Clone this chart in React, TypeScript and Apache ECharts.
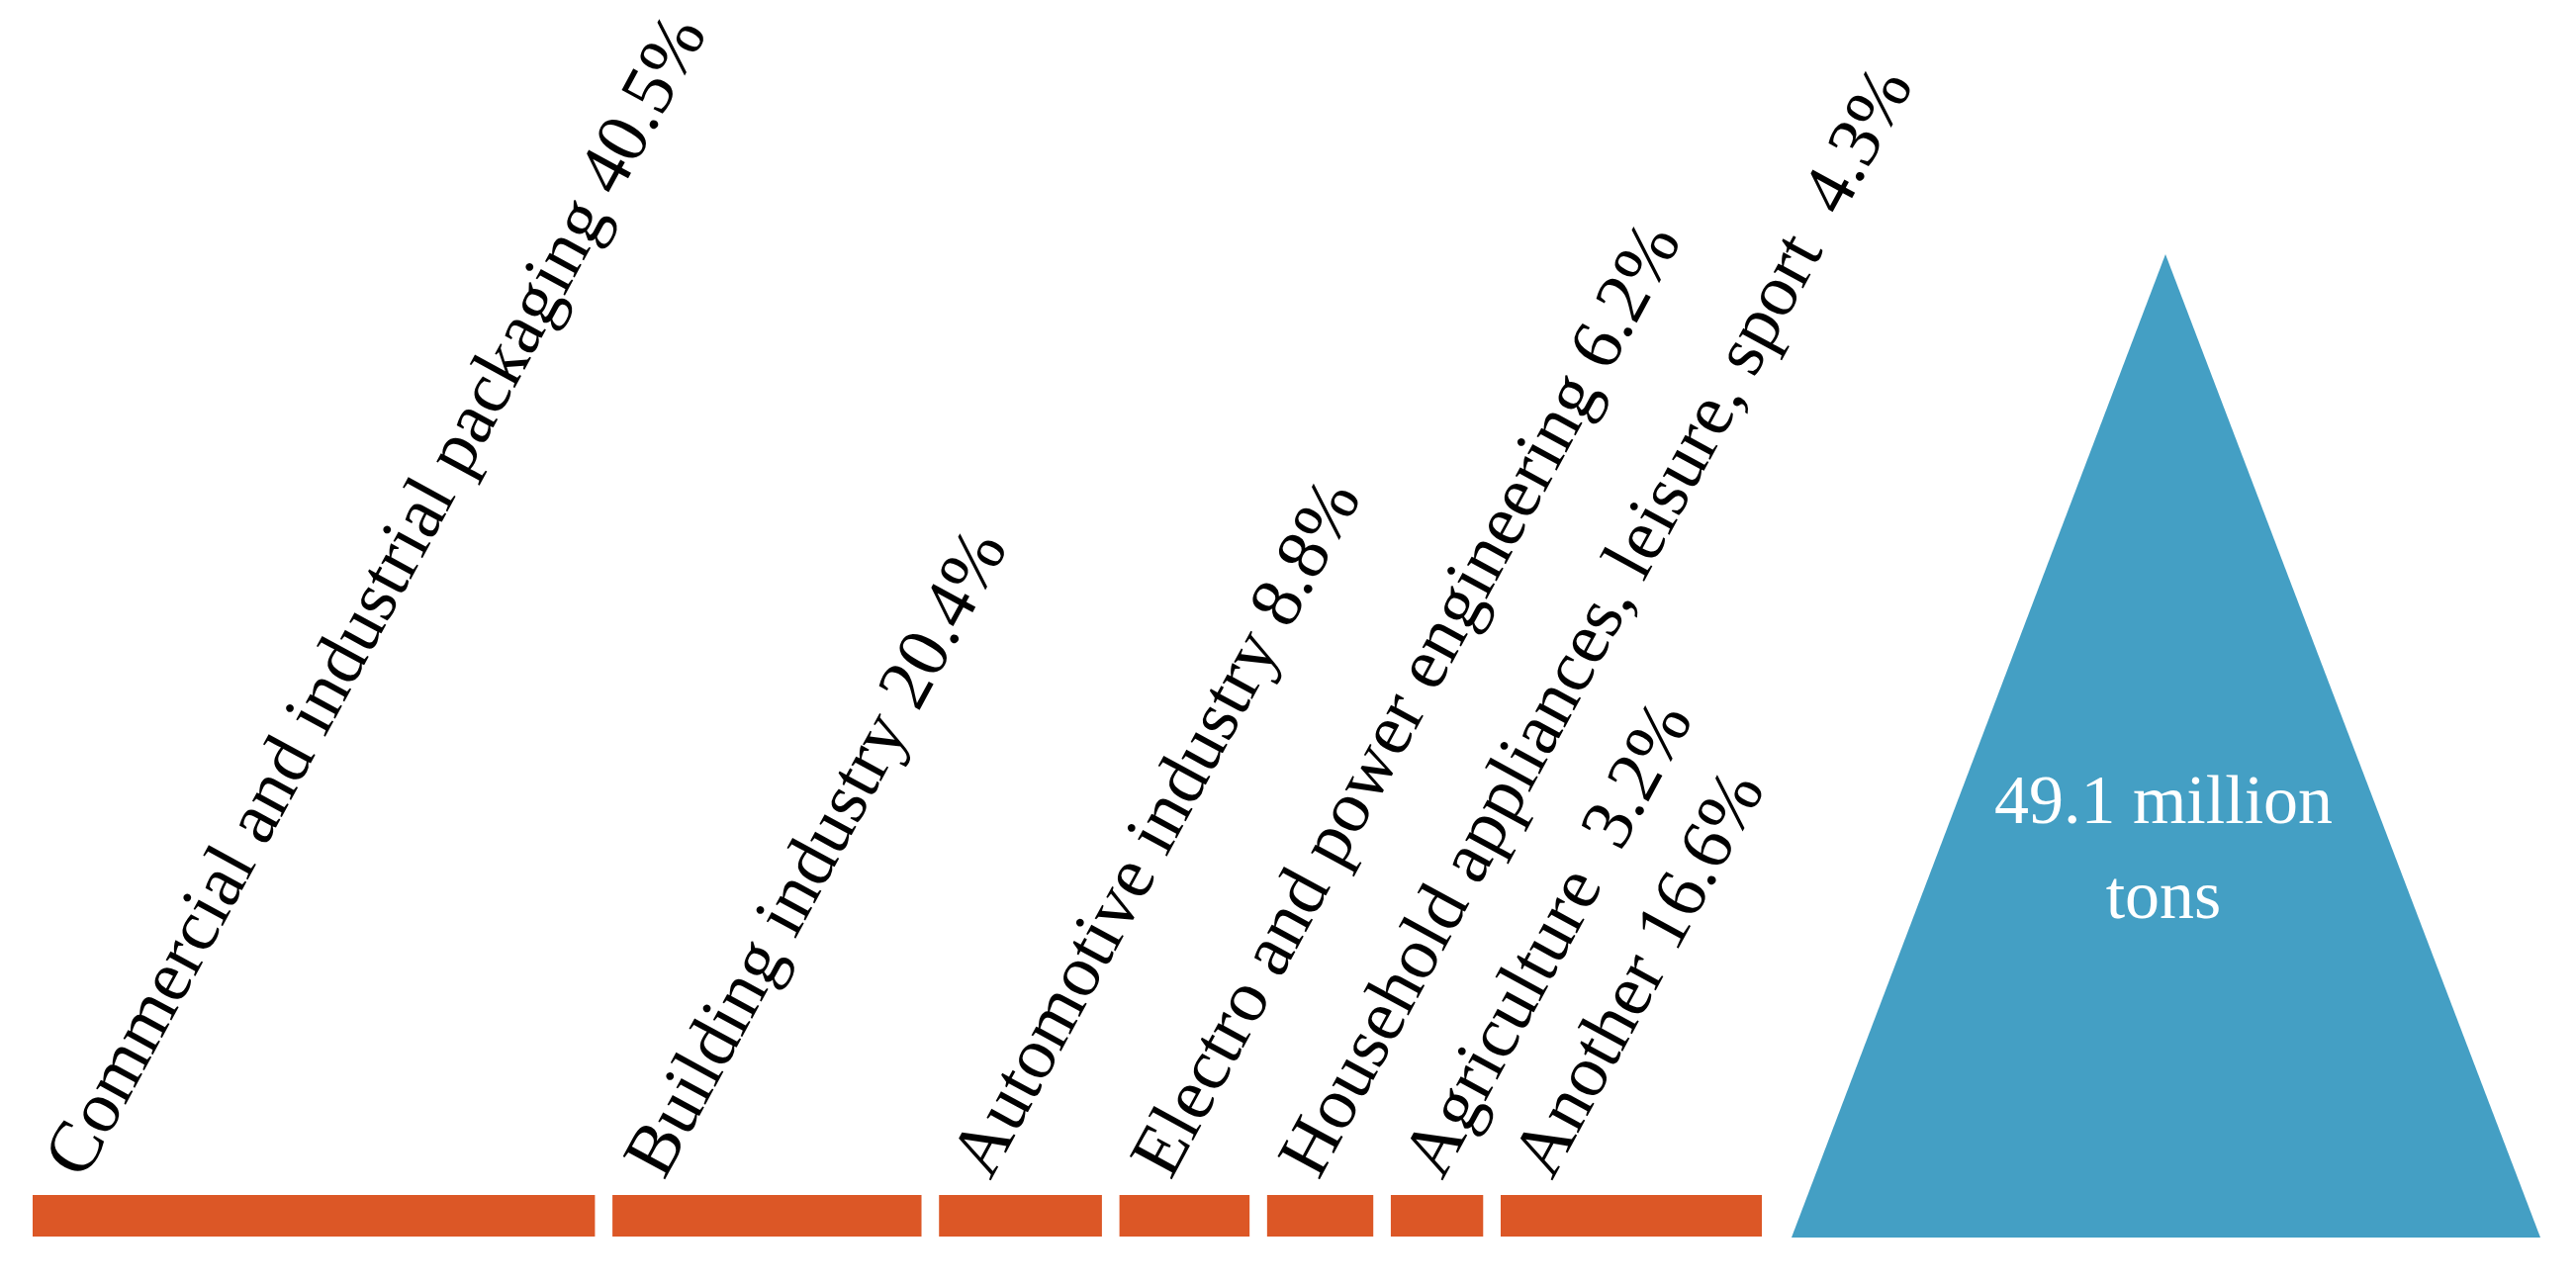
import React, { useEffect, useRef } from "react";
import * as echarts from "echarts";

// ---- data ----
const categories: string[] = [
  "Commercial and industrial packaging",
  "Building industry",
  "Automotive industry",
  "Electro and power engineering",
  "Household appliances, leisure, sport ",
  "Agriculture ",
  "Another",
];
const shares: number[] = [40.5, 20.4, 8.8, 6.2, 4.3, 3.2, 16.6];
const totalLabel: string[] = ["49.1 million", "tons"];

// ---- style ----
const ORANGE = "#DC5726";
const BLUE = "#449FC4";
const FONT = "'Liberation Serif', 'Times New Roman', serif";
const MIN_UNITS = 4.13; // minimum visual width added to each segment (axis units)
const GAP_UNITS = 1.39; // gap between segments (axis units)
const LABEL_ROT = (61.5 * Math.PI) / 180;
const LABEL_FS = 74;

export default function App() {
  const ref = useRef<HTMLDivElement>(null);
  useEffect(() => {
    document.body.style.margin = "0";
    const chart = echarts.init(ref.current!, null, { renderer: "svg" });

    // build segment extents from the shares
    const segs: number[][] = [];
    let cur = 0;
    shares.forEach((v, i) => {
      const s = cur;
      const e = s + v + MIN_UNITS;
      segs.push([s, e, v, i]);
      cur = e + GAP_UNITS;
    });
    const maxX = cur - GAP_UNITS;

    const upX = -Math.sin(LABEL_ROT);
    const upY = -Math.cos(LABEL_ROT);
    const central = 0.3375 * LABEL_FS;

    const option: any = {
      animation: false,
      backgroundColor: "#ffffff",
      grid: { left: 33, width: 1748, top: 1208, height: 42 },
      xAxis: { type: "value", min: 0, max: maxX, show: false },
      yAxis: { type: "value", min: 0, max: 1, show: false },
      series: [
        {
          type: "custom",
          data: segs,
          encode: { x: [0, 1] },
          renderItem: (params: any, api: any) => {
            const s = api.value(0);
            const e = api.value(1);
            const v = api.value(2);
            const idx = api.value(3);
            const p0 = api.coord([s, 1]);
            const p1 = api.coord([e, 0]);
            const bx = p0[0] + 52;
            const by = p0[1] - 14;
            return {
              type: "group",
              children: [
                {
                  type: "rect",
                  shape: { x: p0[0], y: p0[1], width: p1[0] - p0[0], height: p1[1] - p0[1] },
                  style: { fill: ORANGE },
                },
                {
                  type: "text",
                  x: bx + upX * central,
                  y: by + upY * central,
                  rotation: LABEL_ROT,
                  style: {
                    text: `${categories[idx]} ${v}%`,
                    fill: "#000",
                    fontSize: LABEL_FS,
                    fontFamily: FONT,
                    align: "left",
                    verticalAlign: "middle",
                  },
                },
              ],
            };
          },
        },
      ],
      graphic: [
        {
          type: "polygon",
          shape: { points: [[2189, 257], [1811, 1251], [2568, 1251]] },
          style: { fill: BLUE },
        },
        {
          type: "text",
          x: 2187,
          y: 808,
          style: {
            text: totalLabel[0],
            fill: "#fff",
            fontSize: 70,
            fontFamily: FONT,
            align: "center",
            verticalAlign: "middle",
          },
        },
        {
          type: "text",
          x: 2187,
          y: 904,
          style: {
            text: totalLabel[1],
            fill: "#fff",
            fontSize: 70,
            fontFamily: FONT,
            align: "center",
            verticalAlign: "middle",
          },
        },
      ],
    };
    chart.setOption(option);
    return () => chart.dispose();
  }, []);
  return (
    <div
      ref={ref}
      style={{ position: "fixed", left: 0, top: 0, width: 2604, height: 1300, background: "#fff" }}
    />
  );
}
